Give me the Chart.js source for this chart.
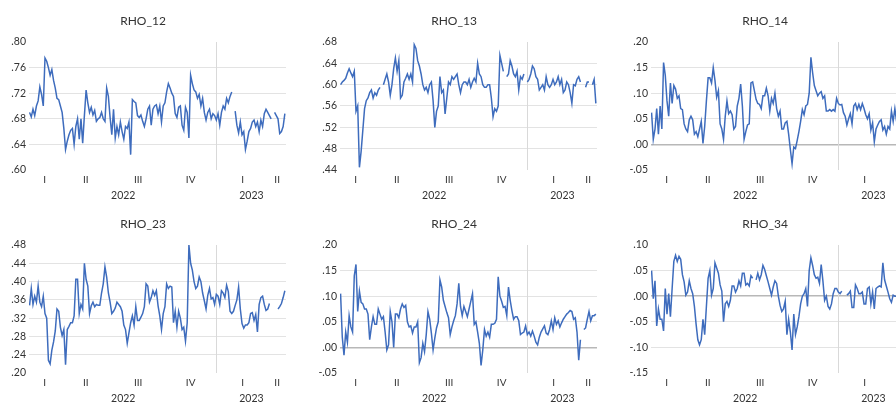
<!DOCTYPE html>
<html lang="en">
<head>
<meta charset="utf-8">
<title>RHO</title>
<script src="https://cdn.jsdelivr.net/npm/chart.js@4.4.1/dist/chart.umd.min.js"></script>
<style>
    html, body { margin: 0; padding: 0; background: #fff; overflow: hidden; width: 896px; height: 404px; }
    canvas { position: absolute; }
</style>
</head>
<body>
<canvas id="rho12" width="311" height="203" style="left:0;top:0"></canvas>
<canvas id="rho13" width="311" height="203" style="left:311px;top:0"></canvas>
<canvas id="rho14" width="311" height="203" style="left:622px;top:0"></canvas>
<canvas id="rho23" width="311" height="203" style="left:0;top:203px"></canvas>
<canvas id="rho24" width="311" height="203" style="left:311px;top:203px"></canvas>
<canvas id="rho34" width="311" height="203" style="left:622px;top:203px"></canvas>
<script>
// ═══ time axis (days since 2022-01-01) ═══
const START_DAY  = 37;
const STEP_DAYS  = 3;
const X_MIN      = 36;
const X_MAX      = 486;
const YEAR_BREAK = 365;
const quarterPos    = [63.5, 135.5, 227, 319, 410, 470.5];
const quarterLabels = ['I', 'II', 'III', 'IV', 'I', 'II'];
const yearPos       = [201, 425.5];
const yearLabels    = ['2022', '2023'];

// ═══ series (one value every 3 days, null = missing) ═══
const rho12 = [
    .690, .683, .695, .685, .700, .708, .730, .718, .700, .775,
    .770, .760, .748, .757, .740, .728, .712, .710, .700, .690,
    .665, .632, .645, .655, .662, .665, .640, .668, .680, .648,
    .680, .642, .685, .725, .705, .690, .698, .686, .693, .676,
    .680, .682, .690, .680, .676, .728, .715, .682, .655, .695,
    .650, .668, .655, .675, .660, .648, .668, .665, .675, .624,
    .710, .707, .705, .685, .682, .686, .676, .668, .680, .695,
    .700, .670, .695, .700, .702, .688, .700, .675, .700, .705,
    .722, .735, .728, .720, .715, .688, .682, .698, .700, .670,
    .662, .698, .690, .650, .748, .735, .725, .722, .712, .718,
    .700, .712, .690, .678, .690, .695, .680, .688, .685, .678,
    .688, .670, .690, .700, .695, .712, .705, .715, .722, null,
    .692, .670, .658, .675, .655, .660, .632, .645, .660, .665,
    .675, .678, .668, .675, .660, .678, .668, .688, .695, .690,
    .685, .680, null, .690, .685, .680, .657, .660, .668, .688
];
const rho13 = [
    .600, .605, .608, .612, .622, .630, .622, .615, .625, .550,
    .560, .445, .475, .515, .555, .570, .575, .585, .590, .575,
    .585, .580, .590, .595, null, .600, .610, .620, .605, .580,
    .600, .630, .650, .625, .645, .575, .580, .605, .612, .620,
    .610, .620, .605, .675, .668, .645, .635, .620, .600, .590,
    .595, .585, .600, .605, .570, .520, .550, .560, .615, .585,
    .590, .545, .575, .605, .600, .615, .610, .615, .620, .600,
    .585, .600, .605, .605, .600, .610, .595, .605, .612, .605,
    .640, .620, .615, .600, .595, .595, .600, .600, .575, .540,
    .555, .550, .560, .655, .640, .625, null, .615, .620, .645,
    .635, .620, .615, .625, .590, .615, .610, .620, null, .605,
    .610, .620, .635, .630, .615, .610, .590, .595, .600, .590,
    .615, .600, .595, .600, .610, .600, .605, .615, .600, .610,
    .585, .590, .605, .600, .585, .565, .600, .598, .610, .615,
    .605, null, null, .595, .605, .605, null, .600, .610, .565
];
const rho14 = [
    .062, .010, .030, .070, .020, .075, .030, .160, .135, .085,
    .055, .120, .080, .115, .108, .090, .095, .070, .068, .040,
    .030, .025, .048, .055, .048, .020, .025, .015, .030, .045,
    .002, .035, .085, .130, .130, .120, .150, .125, .092, .105,
    .040, .030, .010, .055, .085, .060, .065, .058, .030, .035,
    .075, .090, .118, .075, .010, .025, .038, .040, .120, .122,
    .105, .088, .080, .078, .070, .095, .095, .110, .095, .065,
    .090, .080, .100, .070, .055, .065, .030, .030, .042, .045,
    .020, -.010, -.038, -.005, -.008, .008, .025, .045, .068, .058,
    .075, .078, .100, .170, .140, .115, .105, .095, .100, .103,
    .090, .095, .065, .065, .068, .065, .068, .065, .090, .080,
    .077, .078, .062, .055, .038, .050, .060, .040, .075, .080,
    .068, .078, .068, .080, .070, .058, .050, .060, .028, .042,
    .005, .030, .038, .045, .048, .028, .035, .020, .035, .030,
    .065, .045, .070, .045
];
const rho23 = [
    .348, .385, .350, .368, .355, .390, .355, .345, .368, .330,
    .320, .228, .220, .250, .268, .292, .340, .335, .300, .282,
    .295, .218, .295, .302, .310, .310, .325, .405, .405, .330,
    .350, .340, .440, .405, .390, .330, .347, .355, .345, .350,
    .348, .348, .375, .395, .432, .410, .375, .355, .330, .335,
    .342, .355, .350, .345, .335, .305, .295, .265, .288, .310,
    .325, .305, .345, .315, .315, .322, .330, .345, .395, .390,
    .355, .365, .380, .370, .380, .347, .325, .295, .330, .345,
    .395, .385, .390, .388, .310, .335, .300, .335, .320, .295,
    .300, .270, .310, .480, .440, .425, .400, .385, .390, .410,
    .400, .375, .358, .340, .370, .385, .362, .365, .350, .372,
    .368, .350, .380, .375, .365, .392, .378, .335, .330, .335,
    .348, .360, .388, .340, .308, .298, .305, .305, .310, .330,
    .332, .315, .328, .290, .350, .365, .368, .350, .337, .340,
    .352, null, null, null, null, .340, .345, .352, .365, .380
];
const rho24 = [
    .105, .020, -.015, .030, .010, .062, .040, .030, .140, .162,
    .070, .110, .088, .085, .075, .075, .065, .015, .040, .060,
    .045, .045, .075, .065, .055, .060, .030, -.005, .005, .070,
    .050, .000, .065, .065, .058, .075, .085, .078, .082, .050,
    .040, .042, .028, .040, .040, .050, -.030, -.020, .008, -.008,
    .025, .070, .055, .028, -.005, .018, .038, .050, .132, .118,
    .092, .080, .068, .058, .025, .040, .052, .062, .085, .125,
    .080, .062, .080, .070, .060, .075, .090, .105, .045, .050,
    .030, .008, -.035, -.005, .035, .022, .030, .020, .045, .045,
    .047, .055, .138, .100, .090, .078, .080, .062, .118, .092,
    .072, .055, .060, .060, .052, .025, .028, .030, .042, .025,
    .030, .022, .032, .022, .010, .005, .020, .030, .036, .042,
    .028, .025, .035, .052, .035, .058, .045, .052, .040, .048,
    .055, .060, .065, .068, .072, .070, .055, .058, .030, -.025,
    .015, null, .035, .038, .055, .070, .052, .062, .062, .065
];
const rho34 = [
    .050, -.005, .030, -.058, -.025, -.045, -.045, -.068, .015, -.035,
    .005, -.040, .015, .068, .080, .068, .078, .072, .042, .028,
    .002, .008, .030, .015, .005, -.020, -.055, -.085, -.095, -.085,
    -.045, -.075, -.020, .035, .050, .002, .015, .065, .055, .045,
    .022, .010, -.050, -.015, -.010, -.020, -.008, .020, .020, .008,
    .015, .030, .020, .045, .045, .022, .025, .020, .040, .035,
    null, .032, .045, .032, .042, .060, .052, .040, .028, .015,
    .002, .018, .030, .025, .000, -.018, -.030, -.025, -.010, -.075,
    -.045, -.070, -.105, -.035, -.075, -.060, -.040, -.015, .000, .005,
    .015, -.020, .050, .075, .060, .042, .035, .037, .025, .062,
    .030, -.008, .000, -.020, -.025, -.015, .005, .015, .015, .008,
    .005, .010, null, null, .002, .005, .010, -.022, -.022, .022,
    .015, .005, .005, .008, -.015, -.015, .015, .018, -.015, .008,
    -.025, .015, .018, .020, .018, .065, .032, .020, .008, -.005,
    -.012, .002, .000, .000
];

// ═══ styles ═══
const FONT = 'Lato, "Open Sans", sans-serif';
const TEXT = '#333333';
const LINE = '#3E6CBD';

function fmtTick(v) {
    const s = Math.abs(v).toFixed(2).replace(/^0/, '');
    return (v < -1e-9 ? '-' : '') + s;
}

/**
 * one RHO panel: line + quarter/year axis
 */
function renderPanel(id, title, values, yMin, yMax, yStep) {
    const xTickPos = quarterPos.concat([YEAR_BREAK]).sort((a, b) => a - b);

    new Chart(document.getElementById(id), {
        type: 'line',
        data: {
            datasets: [{
                data: values.map((v, i) => ({ x: START_DAY + STEP_DAYS * i, y: v })),
                borderColor: LINE,
                borderWidth: 1.5,
                pointRadius: 0,
                tension: 0,
                spanGaps: false
            }]
        },
        options: {
            responsive: false,
            animation: false,
            events: [],
            layout: { padding: { left: 0, right: 25, top: 0, bottom: 0 } },
            plugins: {
                legend: { display: false },
                tooltip: { enabled: false },
                title: {
                    display: true,
                    text: title,
                    color: TEXT,
                    font: { family: FONT, size: 12, weight: 'normal' },
                    padding: { top: 13.5, bottom: 14.1 }
                }
            },
            scales: {
                y: {
                    min: yMin,
                    max: yMax,
                    afterFit: s => { s.width = 29; },
                    border: { display: false },
                    grid: {
                        drawTicks: false,
                        color: c => {
                            const v = c.tick ? c.tick.value : NaN;
                            if (Math.abs(v) < 1e-9) return '#b8b8b8';
                            if (Math.abs(v - yMin) < 1e-9 || Math.abs(v - yMax) < 1e-9) return 'rgba(0,0,0,0)';
                            return '#e3e3e3';
                        },
                        lineWidth: c => (c.tick && Math.abs(c.tick.value) < 1e-9 ? 1.5 : 1)
                    },
                    ticks: {
                        stepSize: yStep,
                        padding: 3,
                        color: TEXT,
                        font: { family: FONT, size: 10.5 },
                        callback: v => fmtTick(v)
                    }
                },
                x: {
                    type: 'linear',
                    position: 'bottom',
                    weight: 0,
                    min: X_MIN,
                    max: X_MAX,
                    afterBuildTicks: s => { s.ticks = xTickPos.map(v => ({ value: v })); },
                    afterFit: s => { s.height = 16; },
                    border: { display: false },
                    grid: {
                        drawTicks: false,
                        color: c => (c.tick && c.tick.value === YEAR_BREAK ? '#d9d9d9' : 'rgba(0,0,0,0)')
                    },
                    ticks: {
                        autoSkip: false,
                        maxRotation: 0,
                        padding: 4,
                        color: TEXT,
                        font: { family: FONT, size: 10 },
                        callback: v => {
                            const k = quarterPos.indexOf(v);
                            return k < 0 ? '' : quarterLabels[k];
                        }
                    }
                },
                x2: {
                    type: 'linear',
                    axis: 'x',
                    position: 'bottom',
                    weight: 1,
                    min: X_MIN,
                    max: X_MAX,
                    afterBuildTicks: s => { s.ticks = yearPos.map(v => ({ value: v })); },
                    afterFit: s => { s.height = 17; },
                    border: { display: false },
                    grid: { display: false, drawTicks: false },
                    ticks: {
                        autoSkip: false,
                        maxRotation: 0,
                        padding: 3,
                        color: TEXT,
                        font: { family: FONT, size: 10.5 },
                        callback: v => yearLabels[yearPos.indexOf(v)]
                    }
                }
            }
        }
    });
}

renderPanel('rho12', 'RHO_12', rho12, 0.60, 0.80, 0.04);
renderPanel('rho13', 'RHO_13', rho13, 0.44, 0.68, 0.04);
renderPanel('rho14', 'RHO_14', rho14, -0.05, 0.20, 0.05);
renderPanel('rho23', 'RHO_23', rho23, 0.20, 0.48, 0.04);
renderPanel('rho24', 'RHO_24', rho24, -0.05, 0.20, 0.05);
renderPanel('rho34', 'RHO_34', rho34, -0.15, 0.10, 0.05);
</script>
</body>
</html>
